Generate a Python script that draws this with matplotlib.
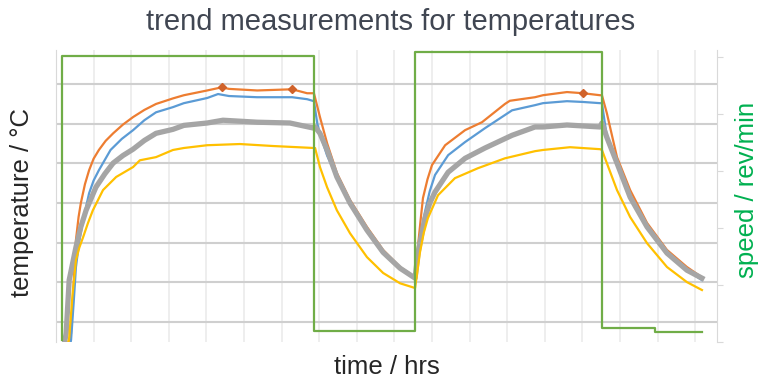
import numpy as np
import matplotlib
matplotlib.use("Agg")
from matplotlib import pyplot as plt

plt.rcParams['font.family'] = ['Liberation Sans', 'DejaVu Sans']

# time in hrs, temperatures in degC, speed in rev/min
orange_t = [0.27, 0.40, 0.47, 0.53, 0.60, 0.66, 0.77, 0.88, 1.00, 1.14, 1.32, 1.52, 1.78, 2.05,
            2.35, 2.66, 3.11, 3.40, 4.02, 4.41, 4.60, 5.35, 6.28, 6.68, 6.86, 7.02, 7.21, 7.47,
            7.82, 8.27, 8.70, 9.15, 9.55, 9.63, 9.70, 9.76, 9.88, 10.00, 10.35, 10.88, 11.33,
            11.94, 12.07, 12.74, 12.95, 13.59, 14.02, 14.47, 14.52, 14.65, 14.92, 15.27, 15.72,
            16.25, 16.78, 17.18]
orange_v = [3.0, 7.2, 20.0, 30.7, 36.5, 40.0, 44.8, 48.3, 51.2, 53.4, 55.7, 57.6, 59.8, 61.7,
            63.5, 65.0, 66.4, 67.2, 68.4, 69.2, 68.8, 68.4, 68.7, 67.7, 67.7, 61.7, 55.1, 47.6,
            40.8, 34.0, 28.2, 23.9, 21.3, 29.4, 36.0, 41.3, 46.0, 49.6, 54.6, 58.4, 60.4,
            65.0, 65.8, 66.7, 67.2, 68.0, 67.7, 67.2, 67.2, 62.7, 51.6, 43.3, 35.0,
            28.2, 23.9, 21.3]
marker_t = [4.41, 6.28, 14.02]
marker_v = [69.2, 68.7, 67.7]

blue_t = [0.35, 0.40, 0.47, 0.53, 0.62, 0.72, 0.88, 1.00, 1.14, 1.45, 1.75, 2.05, 2.35, 2.66,
          3.11, 3.40, 4.02, 4.31, 4.60, 5.35, 6.28, 6.68, 6.86, 6.95, 7.02, 7.21, 7.47, 7.82,
          8.27, 8.70, 9.15, 9.55, 9.63, 9.72, 9.81, 9.94, 10.08, 10.43, 10.88, 11.41, 12.13,
          12.74, 12.95, 13.59, 14.02, 14.47, 14.52, 14.60, 14.65, 14.92, 15.27, 15.72, 16.25,
          16.78, 17.18]
blue_v = [3.0, 5.5, 15.0, 23.9, 30.5, 35.7, 42.5, 45.7, 48.3, 53.4, 56.2, 58.4, 60.9, 62.9,
          64.2, 65.2, 66.5, 67.5, 67.0, 66.7, 66.7, 66.2, 65.7, 60.0, 57.5, 52.0, 46.6, 40.0,
          33.2, 27.6, 23.6, 21.1, 26.1, 32.5, 37.7, 43.0, 47.1, 52.1, 55.4, 58.9, 63.4,
          64.7, 65.2, 65.7, 65.5, 65.2, 65.2, 60.0, 57.0, 50.1, 41.5, 34.0, 27.4,
          23.1, 20.6]

gray_t = [0.21, 0.27, 0.35, 0.53, 0.66, 0.80, 1.06, 1.30, 1.52, 1.78, 2.05, 2.35, 2.66, 3.11,
          3.40, 4.02, 4.44, 5.35, 6.22, 6.86, 6.89, 7.02, 7.21, 7.47, 7.82, 8.27, 8.70, 9.15,
          9.55, 9.63, 9.81, 9.94, 10.08, 10.43, 10.88, 11.41, 12.13, 12.74, 12.95, 13.59, 14.47,
          14.52, 14.65, 14.92, 15.27, 15.72, 16.25, 16.78, 17.18]
gray_v = [4.0, 7.2, 20.6, 28.9, 34.0, 38.2, 44.0, 47.4, 50.1, 52.0, 53.6, 55.8, 57.6, 58.6,
          59.6, 60.2, 60.9, 60.4, 60.2, 58.9, 59.2, 57.6, 53.4, 46.6, 40.0, 33.2, 27.6, 23.6,
          21.1, 27.6, 36.2, 40.0, 42.8, 47.8, 51.3, 53.9, 57.1, 59.2, 59.2, 59.7, 59.2,
          60.2, 56.6, 50.1, 41.5, 34.0, 27.4, 23.1, 21.1]

yellow_t = [0.29, 0.35, 0.44, 0.53, 0.62, 0.72, 0.85, 0.98, 1.25, 1.60, 2.05, 2.23, 2.66, 3.11,
            3.40, 4.02, 4.89, 5.77, 6.86, 6.89, 7.02, 7.21, 7.47, 7.82, 8.27, 8.70, 9.15, 9.55,
            9.68, 9.78, 9.89, 10.16, 10.61, 11.22, 11.94, 12.74, 12.95, 13.67, 14.47, 14.52,
            14.65, 14.92, 15.27, 15.72, 16.25, 16.78, 17.18]
yellow_v = [3.0, 6.0, 17.0, 25.6, 28.8, 31.4, 35.0, 38.2, 43.3, 46.6, 49.1, 50.8, 51.6, 53.4,
            53.9, 54.6, 54.9, 54.4, 53.9, 53.9, 49.1, 44.0, 38.2, 32.4, 26.4, 22.4, 19.8, 18.6,
            27.6, 32.5, 36.2, 42.0, 46.3, 48.8, 51.3, 53.1, 53.4, 54.1, 53.6, 53.4,
            50.1, 43.3, 36.5, 29.9, 23.9, 20.1, 18.1]

speed_t = [0.16, 0.16, 6.86, 6.86, 9.55, 9.55, 14.52, 14.52, 15.93, 15.93, 17.18]
speed_v = [18, 2510, 2510, 100, 100, 2545, 2545, 123, 123, 88, 88]

temp_grid = [10, 20, 30, 40, 50, 60, 70]
speed_ticks = [0, 500, 1000, 1500, 2000, 2500]

fig = plt.figure(figsize=(7.58, 3.82), dpi=100)
ax = fig.add_axes([0.0739, 0.1047, 0.8720, 0.7644])

ax.plot(orange_t, orange_v, color='#ed7d31', lw=1.6, zorder=3)
ax.plot(blue_t, blue_v, color='#5b9bd5', lw=1.6, zorder=3)
ax.plot(gray_t, gray_v, color='#a5a5a5', lw=3.8, zorder=3)
ax.plot(yellow_t, yellow_v, color='#ffc000', lw=1.6, zorder=3)
ax.plot(marker_t, marker_v, linestyle='none', marker='D', ms=4.5, color='#d0622a', zorder=4)

ax.set_xlim(0, 17.58)
ax.set_ylim(5, 78.6)
ax.set_xticks(np.arange(1, 18))
ax.set_yticks(temp_grid)
ax.tick_params(length=0, labelbottom=False, labelleft=False)
ax.grid(axis='x', color='#ebebeb', lw=1.2)
ax.grid(axis='y', color='#cfcfcf', lw=1.5)
ax.set_axisbelow(True)
for s in ['top', 'bottom', 'right']:
    ax.spines[s].set_visible(False)
ax.spines['left'].set_color('#d9d9d9')

ax2 = ax.twinx()
ax2.plot(speed_t, speed_v, color='#70ad47', lw=1.6, zorder=5)
ax2.set_ylim(0, 2561)
ax2.set_yticks(speed_ticks)
ax2.tick_params(axis='y', length=4, color='#d9d9d9', labelright=False)
for s in ['top', 'bottom', 'left']:
    ax2.spines[s].set_visible(False)
ax2.spines['right'].set_color('#d9d9d9')

fig.text(0.515, 0.942, 'trend measurements for temperatures', ha='center', va='center',
         fontsize=21, color='#404652')
fig.text(0.029, 0.471, 'temperature / \u00b0C', rotation=90, ha='center', va='center',
         fontsize=18.5, color='#262626')
fig.text(0.986, 0.503, 'speed / rev/min', rotation=90, ha='center', va='center',
         fontsize=18.5, color='#00b050')
fig.text(0.511, 0.039, 'time / hrs', ha='center', va='center', fontsize=18.5, color='#262626')

fig.savefig('out.png', dpi=100)
